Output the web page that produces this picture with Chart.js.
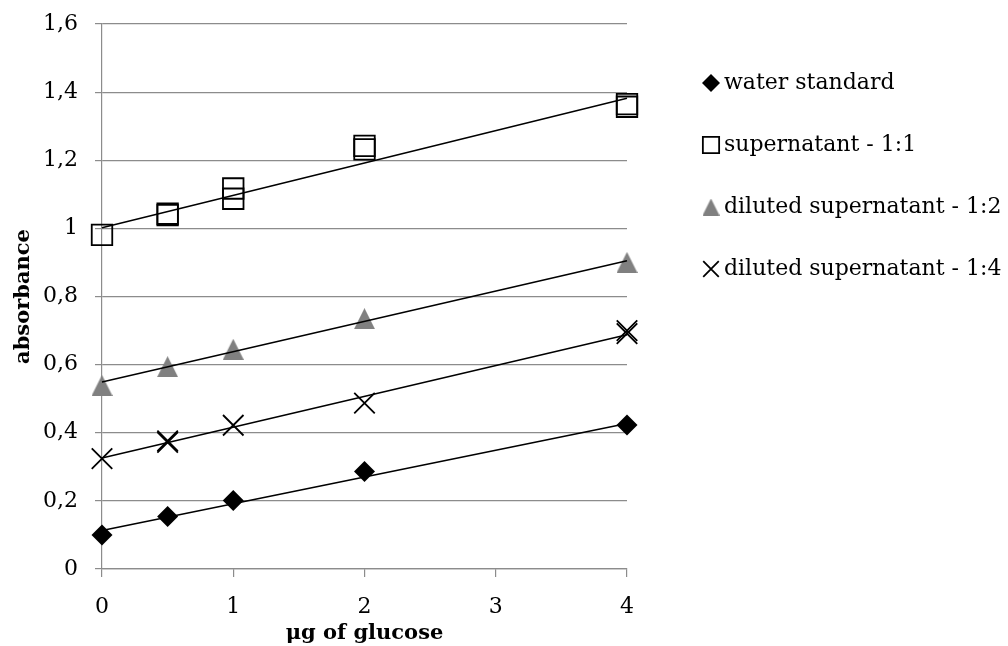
<!DOCTYPE html>
<html>
<head>
<meta charset="utf-8">
<script src="https://cdn.jsdelivr.net/npm/chart.js@4/dist/chart.umd.min.js"></script>
<style>
  html, body { margin: 0; padding: 0; background: #fff; }
</style>
</head>
<body>
<canvas id="myChart" width="1008" height="646"></canvas>
<script>
// absorbance readings per glucose amount (µg), replicates kept as separate points
const waterX = [0, 0.5, 1, 2, 4];
const waterY = [0.100, 0.154, 0.201, 0.286, 0.423];

const superX = [0, 0.5, 0.5, 1, 1, 2, 2, 4, 4];
const superY = [0.981, 1.043, 1.039, 1.117, 1.087, 1.242, 1.232, 1.365, 1.357];

const dil2X = [0, 0.5, 1, 2, 4];
const dil2Y = [0.539, 0.594, 0.645, 0.735, 0.900];

const dil4X = [0, 0.5, 0.5, 1, 2, 4, 4];
const dil4Y = [0.324, 0.376, 0.372, 0.422, 0.487, 0.700, 0.691];

// linear trendlines, start/end value at x = 0 and x = 4
const trendX = [0, 4];
const waterTrend = [0.113, 0.427];
const superTrend = [1.002, 1.382];
const dil2Trend = [0.549, 0.905];
const dil4Trend = [0.326, 0.688];

const seriesNames = ['water standard', 'supernatant - 1:1', 'diluted supernatant - 1:2', 'diluted supernatant - 1:4'];
const xTickLabels = ['0', '1', '2', '3', '4'];
const yTickLabels = ['0', '0,2', '0,4', '0,6', '0,8', '1', '1,2', '1,4', '1,6'];

const FONT = '"DejaVu Serif", serif';
const GRID = '#8c8c8c';

function toPoints(xs, ys) {
    return xs.map((x, i) => ({ x: x, y: ys[i] }));
}

// grey triangle drawn into a small canvas so it sits centred on the point
function triangleMarker(size, color) {
    const c = document.createElement('canvas');
    c.width = size;
    c.height = size;
    const g = c.getContext('2d');
    g.fillStyle = color;
    g.beginPath();
    g.moveTo(size / 2, 0);
    g.lineTo(size, size);
    g.lineTo(0, size);
    g.closePath();
    g.fill();
    return c;
}

const triBig = triangleMarker(21, '#808080');
const triSmall = triangleMarker(17, '#808080');

function trendSet(ys) {
    return {
        data: toPoints(trendX, ys),
        showLine: true,
        pointRadius: 0,
        borderColor: '#000',
        borderWidth: 1.5,
        clip: false,
        order: 1
    };
}

let datasets = [
    { label: seriesNames[0], data: toPoints(waterX, waterY), pointStyle: 'rectRot', pointRadius: 10.5,
      backgroundColor: '#000', borderColor: '#000', borderWidth: 0, order: 2, clip: false,
      legend: { style: 'rectRot', radius: 9 } },
    { label: seriesNames[1], data: toPoints(superX, superY), pointStyle: 'rect', pointRadius: 14.5,
      backgroundColor: 'rgba(0,0,0,0)', borderColor: '#000', borderWidth: 1.8, order: 2, clip: false,
      legend: { style: 'rect', radius: 11.5 } },
    { label: seriesNames[2], data: toPoints(dil2X, dil2Y), pointStyle: triBig, pointRadius: 10,
      backgroundColor: '#808080', borderColor: '#808080', borderWidth: 0, order: 2, clip: false,
      legend: { style: triSmall, radius: 8 } },
    { label: seriesNames[3], data: toPoints(dil4X, dil4Y), pointStyle: 'crossRot', pointRadius: 14.5,
      backgroundColor: '#000', borderColor: '#000', borderWidth: 1.8, order: 2, clip: false,
      legend: { style: 'crossRot', radius: 11 } },
    trendSet(waterTrend),
    trendSet(superTrend),
    trendSet(dil2Trend),
    trendSet(dil4Trend)
];

// legend on the right, drawn with the same point styles
const sideLegend = {
    id: 'sideLegend',
    afterDraw(chart) {
        const ctx = chart.ctx;
        const markX = 711;
        const textX = 724;
        const top = 83;
        const step = 62;
        ctx.save();
        for (let i = 0; i < seriesNames.length; i++) {
            const ds = chart.data.datasets[i];
            const y = top + i * step;
            ctx.fillStyle = ds.backgroundColor;
            ctx.strokeStyle = ds.borderColor;
            ctx.lineWidth = ds.borderWidth;
            Chart.helpers.drawPoint(ctx, {
                pointStyle: ds.legend.style,
                radius: ds.legend.radius,
                rotation: 0,
                borderWidth: ds.borderWidth
            }, markX, y);
            ctx.fillStyle = '#000';
            ctx.font = '22px ' + FONT;
            ctx.textAlign = 'left';
            ctx.textBaseline = 'middle';
            ctx.fillText(ds.label, textX, y);
        }
        ctx.restore();
    }
};

const ctx = document.getElementById('myChart');
new Chart(ctx, {
    type: 'scatter',
    data: { datasets: datasets },
    plugins: [sideLegend],
    options: {
        responsive: false,
        animation: false,
        layout: { padding: { left: 0, right: 381, top: 24, bottom: 0 } },
        plugins: {
            legend: { display: false },
            tooltip: { enabled: false }
        },
        scales: {
            x: {
                type: 'linear',
                min: 0,
                max: 4,
                ticks: {
                    stepSize: 1,
                    padding: 17,
                    color: '#000',
                    font: { family: FONT, size: 22 },
                    callback: (v) => xTickLabels[Math.round(v)]
                },
                grid: { drawOnChartArea: false, drawTicks: true, tickLength: 8, color: GRID, lineWidth: 1.2 },
                border: { color: GRID, width: 1.2 },
                title: {
                    display: true,
                    text: 'μg of glucose',
                    color: '#000',
                    font: { family: FONT, size: 21, weight: 'bold' },
                    padding: { top: 0, bottom: 0 }
                },
                afterFit(scale) {
                    scale.height = 77;
                    scale.paddingLeft = 0;
                    scale.paddingRight = 0;
                }
            },
            y: {
                min: 0,
                max: 1.6,
                ticks: {
                    stepSize: 0.2,
                    padding: 17,
                    color: '#000',
                    font: { family: FONT, size: 22 },
                    callback: (v) => yTickLabels[Math.round(v * 5)]
                },
                grid: { color: GRID, lineWidth: 1.2, tickLength: 7 },
                border: { color: GRID, width: 1.2 },
                title: {
                    display: true,
                    text: 'absorbance',
                    color: '#000',
                    font: { family: FONT, size: 21, weight: 'bold' },
                    padding: { top: 11, bottom: 0 }
                },
                afterFit(scale) {
                    scale.width = 102;
                    scale.paddingTop = 0;
                    scale.paddingBottom = 0;
                }
            }
        }
    }
});
</script>
</body>
</html>
